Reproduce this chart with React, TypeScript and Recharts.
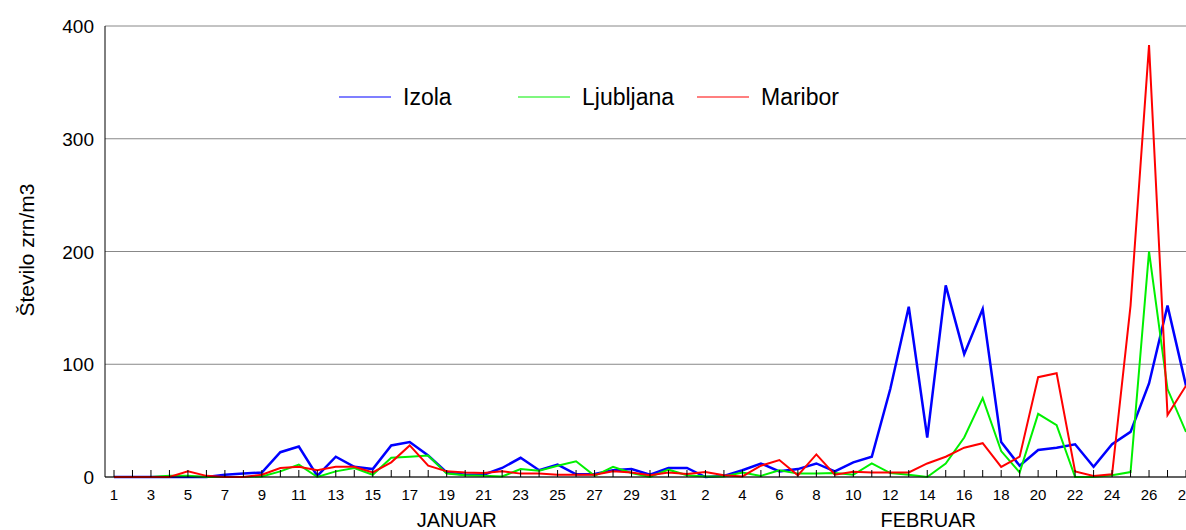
import { LineChart, Line, XAxis, YAxis, CartesianGrid, Legend } from 'recharts'

// dnevi: januar 1–31, februar 1–28
const janDays = Array.from({ length: 31 }, (_, i) => String(i + 1))
const febDays = Array.from({ length: 28 }, (_, i) => String(i + 1))
const days = [...janDays, ...febDays]

const izola = [
  0, 0, 0, 0, 0, 0, 2, 3, 4, 22, 27, 1, 18, 9, 7, 28, 31, 19, 4, 2, 2, 8, 17, 6, 11, 2.4, 2.6, 6, 7, 2, 8,
  8, 0, 1, 6, 12, 5, 7, 12, 5, 13, 18, 78, 151, 35, 170, 109, 149, 31, 10, 24, 26, 29, 9, 29, 40, 83, 152, 81,
]
const ljubljana = [
  0, 0, 0, 1, 1, 0, 0, 0, 0.5, 5, 11, 0, 5, 8, 2, 17, 18, 19, 3, 1.5, 1, 0.5, 7, 5.6, 10, 14, 1, 9, 3.5, 0, 6.5,
  1.5, 0.5, 0.5, 4, 1, 6, 3, 3, 3.5, 2, 12, 3.5, 2, 0, 12, 35, 70, 23, 4, 56, 46, 0, 0, 1.5, 4.4, 200, 78, 40,
]
const maribor = [
  0, 0, 0, 0, 5, 1, 0, 0, 2, 8, 9, 6, 9, 9, 4, 13, 28, 10, 5, 4, 3.5, 5, 3, 3, 2, 2, 2, 5, 4, 1.5, 4,
  2.6, 4.5, 1.5, 0.5, 10, 15, 1.5, 20, 2, 4.7, 4, 4, 4, 12, 18, 26, 30, 9, 18, 88.5, 92, 5, 1, 2.4, 152, 383, 55, 81,
]

const yTicks = [0, 100, 200, 300, 400]
const months = [
  { label: 'JANUAR', index: 18, shift: 10 },
  { label: 'FEBRUAR', index: 44, shift: 1 },
]

const data = days.map((d, i) => ({
  key: i,
  day: d,
  Izola: izola[i],
  Ljubljana: ljubljana[i],
  Maribor: maribor[i],
}))

const FONT = '"Liberation Sans", Arial, sans-serif'

function DayTick(props: any) {
  const { x, y, payload, index } = props
  const i = payload.value as number
  const month = months.find((m) => m.index === i)
  return (
    <g>
      <line x1={x} x2={x} y1={y} y2={y - 7} stroke="#000" strokeWidth={1} />
      {index % 2 === 0 && (
        <text x={x} y={y + 23} textAnchor="middle" fontSize={15} fontFamily={FONT} fill="#000">
          {days[i]}
        </text>
      )}
      {month && (
        <text x={x + month.shift} y={y + 50} textAnchor="middle" fontSize={20} fontFamily={FONT} fill="#000">
          {month.label}
        </text>
      )}
    </g>
  )
}

function ValueTick(props: any) {
  const { x, y, payload } = props
  return (
    <text x={x} y={y} dy={7} textAnchor="end" fontSize={19} fontFamily={FONT} fill="#000">
      {payload.value}
    </text>
  )
}

const legendItems = [
  { name: 'Izola', color: '#0000ff', left: 9 },
  { name: 'Ljubljana', color: '#00f000', left: 188 },
  { name: 'Maribor', color: '#ff0000', left: 367 },
]

function ChartLegend() {
  return (
    <svg width={540} height={40}>
      {legendItems.map((it) => (
        <g key={it.name}>
          <line x1={it.left} x2={it.left + 52} y1={17} y2={17} stroke={it.color} strokeWidth={1.2} />
          <text x={it.left + 64} y={25} fontSize={23} fontFamily={FONT} fill="#000">
            {it.name}
          </text>
        </g>
      ))}
    </svg>
  )
}

export default function App() {
  return (
    <div style={{ position: 'absolute', left: 0, top: 0, width: 1186, height: 530, overflow: 'hidden', background: '#fff' }}>
      <LineChart width={1195} height={530} data={data} margin={{ top: 26, right: 0, left: 0, bottom: 0 }}>
        <CartesianGrid vertical={false} stroke="#888" strokeWidth={1} />
        <XAxis
          dataKey="key"
          type="category"
          interval={0}
          height={53}
          padding={{ left: 9, right: 9 }}
          tickLine={false}
          tickSize={0}
          tickMargin={0}
          axisLine={{ stroke: '#000' }}
          tick={<DayTick />}
        />
        <YAxis
          width={105}
          domain={[0, 400]}
          ticks={yTicks}
          tickLine={false}
          tickSize={0}
          tickMargin={11}
          axisLine={{ stroke: '#000' }}
          tick={<ValueTick />}
          label={{
            content: () => (
              <text
                x={34}
                y={250}
                transform="rotate(-90 34 250)"
                textAnchor="middle"
                fontSize={21}
                fontFamily={FONT}
                fill="#000"
              >
                Število zrn/m3
              </text>
            ),
          }}
        />
        <Legend
          verticalAlign="middle"
          align="center"
          layout="horizontal"
          wrapperStyle={{ position: 'absolute', top: 80, left: 330, width: 540 }}
          content={<ChartLegend />}
        />
        <Line dataKey="Izola" stroke="#0000ff" strokeWidth={2.5} dot={false} isAnimationActive={false} />
        <Line dataKey="Ljubljana" stroke="#00f000" strokeWidth={2} dot={false} isAnimationActive={false} />
        <Line dataKey="Maribor" stroke="#ff0000" strokeWidth={2} dot={false} isAnimationActive={false} />
      </LineChart>
    </div>
  )
}
